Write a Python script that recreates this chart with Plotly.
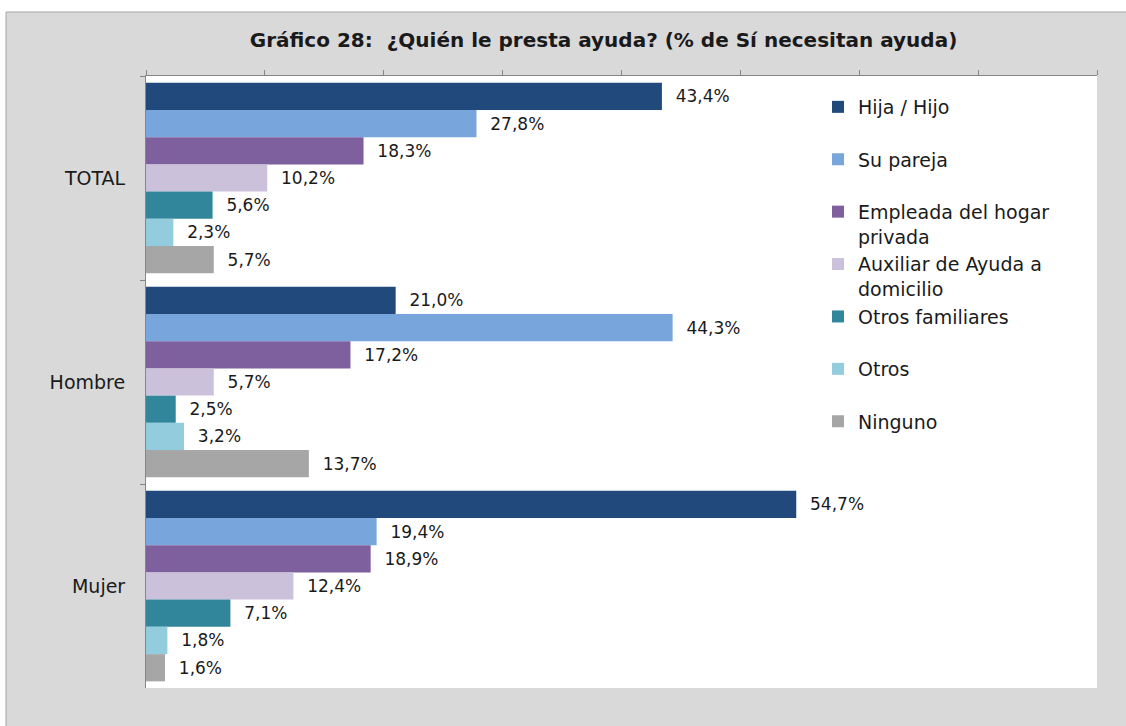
import plotly.graph_objects as go

# categories and series (values in %)
categories = ['TOTAL', 'Hombre', 'Mujer']
series_names = ['Hija / Hijo', 'Su pareja', 'Empleada del hogar<br>privada',
                'Auxiliar de Ayuda a<br>domicilio', 'Otros familiares', 'Otros', 'Ninguno']
hija = [43.4, 21.0, 54.7]
pareja = [27.8, 44.3, 19.4]
empleada = [18.3, 17.2, 18.9]
auxiliar = [10.2, 5.7, 12.4]
otros_fam = [5.6, 2.5, 7.1]
otros = [2.3, 3.2, 1.8]
ninguno = [5.7, 13.7, 1.6]

values = [hija, pareja, empleada, auxiliar, otros_fam, otros, ninguno]
colors = ['#21497c', '#77a5dc', '#7f609f', '#ccc1da', '#31869c', '#93cddd', '#a6a6a6']

FONT = 'DejaVu Sans'
W, H = 1126, 726
L, R, T, B = 146, 1097, 76, 688  # plot area in pixels


def px_x(p):
    return (p - L) / (R - L)


def px_y(p):
    return (B - p) / (B - T)


fig = go.Figure()
for name, vals, col in zip(series_names, values, colors):
    # pad single-line names so every legend entry has the same height
    label = name if '<br>' in name else name + '<br>\u00a0'
    fig.add_trace(go.Bar(
        y=categories, x=vals, orientation='h', name=label,
        marker=dict(color=col, line=dict(width=0)),
        texttemplate='\u00a0\u00a0%{x:.1f}%', textposition='outside',
        textfont=dict(family=FONT, size=17, color='#1a1a1a'),
        cliponaxis=False, hoverinfo='skip',
    ))

fig.update_layout(
    width=W, height=H,
    margin=dict(l=L, r=W - R, t=T, b=H - B),
    paper_bgcolor='white', plot_bgcolor='white',
    separators=',.',
    barmode='group', bargap=0.065, bargroupgap=0,
    font=dict(family=FONT, size=17, color='#1a1a1a'),
    title=dict(text='<b>Gráfico 28:  ¿Quién le presta ayuda? (% de Sí necesitan ayuda)</b>',
               x=0.536, xanchor='center', y=1 - 40 / H, yanchor='middle',
               font=dict(family=FONT, size=20, color='#1a1a1a')),
    legend=dict(x=px_x(818), y=px_y(88), xanchor='left', yanchor='top',
                bgcolor='rgba(0,0,0,0)', traceorder='normal', valign='top',
                font=dict(family=FONT, size=19, color='#1a1a1a'), itemwidth=30),
    showlegend=True,
    shapes=[
        dict(type='rect', xref='paper', yref='paper', layer='below',
             x0=px_x(6), x1=px_x(W + 5), y0=px_y(12), y1=px_y(H + 5),
             fillcolor='#d9d9d9', line=dict(color='#a6a6a6', width=1)),
        dict(type='rect', xref='paper', yref='paper', layer='below',
             x0=0, x1=1, y0=0, y1=1, fillcolor='white', line=dict(width=0)),
    ],
)

fig.update_xaxes(range=[0, 80], dtick=10, side='top', showticklabels=False,
                 ticks='outside', ticklen=5, tickcolor='#868686',
                 showline=True, linecolor='#868686', linewidth=1,
                 showgrid=False, zeroline=False, fixedrange=True)
fig.update_yaxes(autorange='reversed', ticks='outside', tickson='boundaries',
                 ticklen=5, tickcolor='#868686', showline=True, linecolor='#868686',
                 linewidth=1, showgrid=False, ticklabelstandoff=16,
                 tickfont=dict(family=FONT, size=19, color='#1a1a1a'))

# drop the page's default body margin so the figure sits at the window origin
fig.write_html('out.html', config={'displayModeBar': False},
               post_script="document.body.style.margin='0';")
